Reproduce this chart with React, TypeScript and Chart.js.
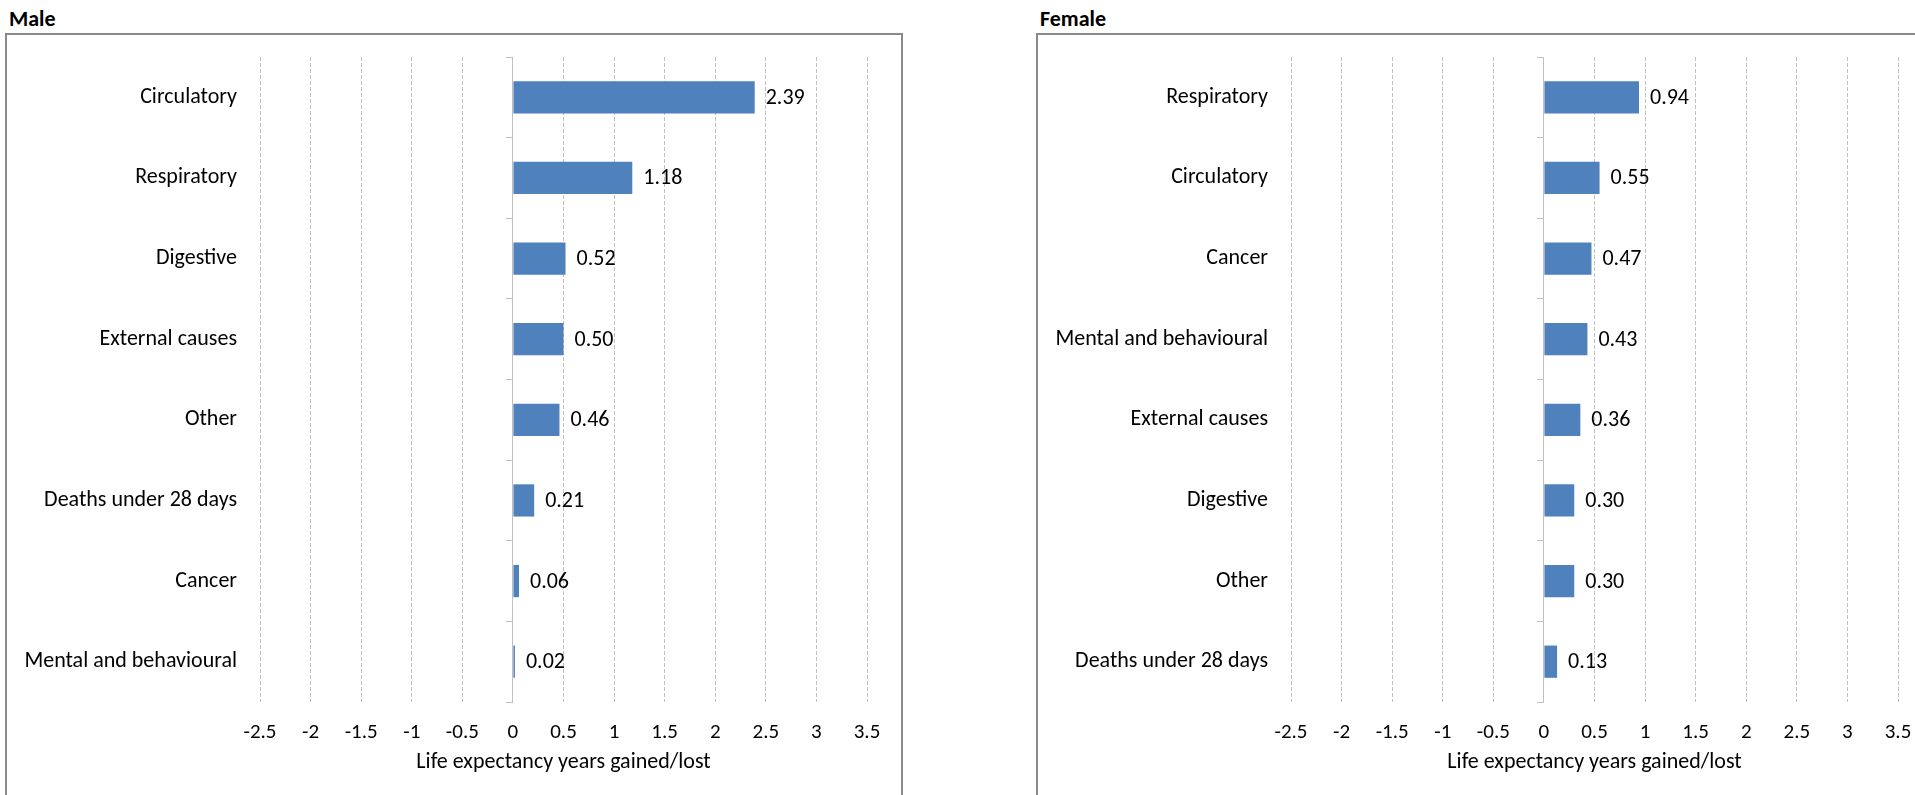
import React, { useEffect, useRef } from 'react';
import { Chart, registerables } from 'chart.js';

Chart.register(...registerables);

const maleCategories = [
  'Circulatory',
  'Respiratory',
  'Digestive',
  'External causes',
  'Other',
  'Deaths under 28 days',
  'Cancer',
  'Mental and behavioural',
];
const maleValues = [2.39, 1.18, 0.52, 0.5, 0.46, 0.21, 0.06, 0.02];

const femaleCategories = [
  'Respiratory',
  'Circulatory',
  'Cancer',
  'Mental and behavioural',
  'External causes',
  'Digestive',
  'Other',
  'Deaths under 28 days',
];
const femaleValues = [0.94, 0.55, 0.47, 0.43, 0.36, 0.3, 0.3, 0.13];

const xTickValues = [-2.5, -2, -1.5, -1, -0.5, 0, 0.5, 1, 1.5, 2, 2.5, 3, 3.5];
const axisTitle = 'Life expectancy years gained/lost';

const FONT = "Carlito, Lato, 'Open Sans', sans-serif";
const TEXT_SIZE = 22;
const TICK_SIZE = 21;
const BAR_COLOR = '#4F81BD';
const GRID_COLOR = '#BFBFBF';

const valueLabels = {
  id: 'valueLabels',
  afterDatasetsDraw(chart: any) {
    const ctx = chart.ctx;
    const meta = chart.getDatasetMeta(0);
    const data = chart.data.datasets[0].data;
    ctx.save();
    ctx.font = `${TEXT_SIZE}px ${FONT}`;
    ctx.fillStyle = '#000';
    ctx.textAlign = 'left';
    ctx.textBaseline = 'middle';
    meta.data.forEach((bar: any, i: number) => {
      ctx.fillText(Number(data[i]).toFixed(2), bar.x + 11, bar.y + 1);
    });
    ctx.restore();
  },
};

function Panel({ offset, title, cats, values }: { offset: number; title: string; cats: string[]; values: number[] }) {
  const ref = useRef<HTMLCanvasElement | null>(null);

  useEffect(() => {
    if (!ref.current) return;
    const textFont = { family: FONT, size: TEXT_SIZE };
    const tickFont = { family: FONT, size: TICK_SIZE };
    const chart = new Chart(ref.current, {
      type: 'bar',
      data: {
        labels: cats,
        datasets: [
          {
            data: values,
            backgroundColor: BAR_COLOR,
            borderWidth: 0,
            barPercentage: 0.4,
            categoryPercentage: 1,
          },
        ],
      },
      options: {
        indexAxis: 'y',
        responsive: false,
        animation: false,
        layout: { padding: { left: 0, right: 34, top: 22, bottom: 0 } },
        plugins: {
          legend: { display: false },
          tooltip: { enabled: false },
          title: { display: false },
        },
        scales: {
          x: {
            type: 'linear',
            min: -2.5,
            max: 3.5,
            afterBuildTicks: (s: any) => {
              s.ticks = xTickValues.map((v) => ({ value: v }));
            },
            afterFit: (s: any) => {
              s.height = 93;
              s.paddingLeft = 0;
              s.paddingRight = 0;
            },
            grid: {
              color: (ctx: any) => (ctx.tick && ctx.tick.value === 0 ? 'rgba(0,0,0,0)' : GRID_COLOR),
              lineWidth: 1,
              drawTicks: false,
            },
            border: { display: false, dash: [4, 2] },
            ticks: {
              padding: 18,
              color: '#000',
              font: tickFont,
              autoSkip: false,
              maxRotation: 0,
              callback: (v: any) => String(v),
            },
            title: {
              display: true,
              text: axisTitle,
              color: '#000',
              font: textFont,
              padding: { top: 0, bottom: 19 },
            },
          },
          y: {
            afterFit: (s: any) => {
              s.width = 253;
              s.paddingTop = 0;
              s.paddingBottom = 0;
            },
            grid: { display: false },
            border: { display: false },
            ticks: { padding: 15, color: '#000', font: textFont, autoSkip: false },
          },
          y2: {
            axis: 'y',
            type: 'category',
            labels: cats,
            position: { x: 0 },
            offset: true,
            grid: {
              offset: true,
              drawOnChartArea: false,
              drawTicks: true,
              tickLength: 6,
              color: GRID_COLOR,
              lineWidth: 1,
            },
            border: { display: true, color: GRID_COLOR, width: 1 },
            ticks: { display: false },
          },
        },
      } as any,
      plugins: [valueLabels],
    });
    return () => chart.destroy();
  }, []);

  return (
    <>
      <div
        style={{
          position: 'absolute',
          left: offset + 9,
          top: 8,
          font: `bold 22px ${FONT}`,
          lineHeight: '21px',
          color: '#000',
          whiteSpace: 'nowrap',
        }}
      >
        {title}
      </div>
      <div
        style={{
          position: 'absolute',
          left: offset + 5,
          top: 33,
          width: 898,
          height: 800,
          border: '2px solid #8a8a8a',
          boxSizing: 'border-box',
        }}
      />
      <canvas
        ref={ref}
        width={894}
        height={760}
        style={{ position: 'absolute', left: offset + 7, top: 35, width: 894, height: 760 }}
      />
    </>
  );
}

export default function App() {
  return (
    <div
      style={{
        position: 'fixed',
        left: 0,
        top: 0,
        width: 1915,
        height: 795,
        overflow: 'hidden',
        background: '#fff',
      }}
    >
      <Panel offset={0} title="Male" cats={maleCategories} values={maleValues} />
      <Panel offset={1031} title="Female" cats={femaleCategories} values={femaleValues} />
    </div>
  );
}
